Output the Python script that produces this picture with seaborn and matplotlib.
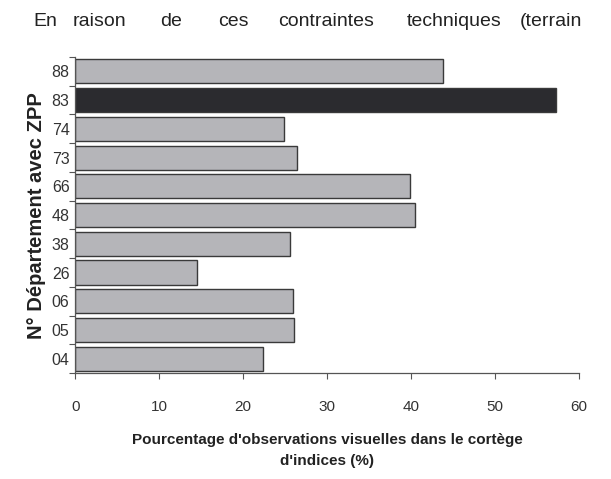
import matplotlib
matplotlib.use("Agg")
import matplotlib.pyplot as plt
import seaborn as sns
import pandas as pd
import numpy as np

departements = ["88", "83", "74", "73", "66", "48", "38", "26", "06", "05", "04"]
pourcentages = [43.8, 57.2, 24.8, 26.4, 39.8, 40.4, 25.6, 14.5, 25.9, 26.1, 22.4]
highlight = "83"
x_ticks = [0, 10, 20, 30, 40, 50, 60]
intro_words = ["En", "raison", "de", "ces", "contraintes", "techniques", "(terrain"]

sns.set_style("white")
plt.rcParams["font.family"] = ["Liberation Sans", "DejaVu Sans"]

df = pd.DataFrame({"dep": departements, "pct": pourcentages})
palette = {d: ("#2b2b2f" if d == highlight else "#b5b5b9") for d in departements}

fig = plt.figure(figsize=(6.11, 4.79), dpi=100)
ax = fig.add_axes([0.123, 0.221, 0.825, 0.66])

sns.barplot(data=df, x="pct", y="dep", hue="dep", palette=palette, order=departements,
            orient="h", width=0.84, edgecolor="#3a3a3a", linewidth=1.0, legend=False,
            saturation=1, ax=ax)

ax.set_xlim(0, 60)
ax.set_ylim(len(departements) - 0.5, -0.5)
ax.set_xticks(x_ticks)
ax.set_xticklabels([str(t) for t in x_ticks], fontsize=11, color="#333333")
ax.tick_params(axis="x", length=4, width=0.8, color="#555555", pad=15, bottom=True)
ax.tick_params(axis="y", which="major", length=0, pad=4, labelsize=11.5, labelcolor="#333333")
ax.set_yticks(np.arange(-0.5, len(departements), 1.0), minor=True)
ax.tick_params(axis="y", which="minor", length=4, width=0.8, color="#555555", left=True)

for side in ["top", "right"]:
    ax.spines[side].set_visible(False)
for side in ["left", "bottom"]:
    ax.spines[side].set_color("#555555")
    ax.spines[side].set_linewidth(0.9)

ax.set_xlabel("Pourcentage d'observations visuelles dans le cortège\nd'indices (%)",
              fontsize=11, fontweight="bold", color="#222222", labelpad=14, linespacing=1.6)
ax.set_ylabel("N° Département avec ZPP", fontsize=14.5, fontweight="bold",
              color="#222222", labelpad=4)

word_x = [33, 73, 160, 218, 278, 407, 520]
for w, x in zip(intro_words, word_x):
    fig.text(x / 611, 1 - 22 / 479, w, fontsize=14, color="#222222", va="center", ha="left")

fig.savefig("out.png", dpi=100)
